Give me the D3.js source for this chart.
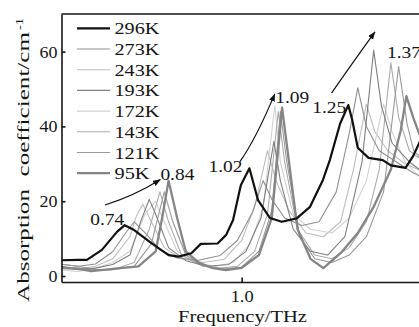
<!DOCTYPE html>
<html>
<head>
<meta charset="utf-8">
<script src="https://cdn.jsdelivr.net/npm/d3@7/dist/d3.min.js"></script>
<style>
  body { margin: 0; background: #fff; }
  text { font-family: "Liberation Serif", "Times New Roman", serif; fill: #161616; }
  .axis path, .axis line { stroke: #161616; stroke-width: 1.6; }
</style>
</head>
<body>
<div id="chart"></div>
<script>
// Absorption spectra at 8 temperatures, THz range.
const temps = ["296K", "273K", "243K", "193K", "172K", "143K", "121K", "95K"];

const s296 = [[0.575,4.2],[0.62,4.3],[0.64,4.3],[0.675,7],[0.71,11.8],[0.728,13.6],[0.75,12.3],[0.79,8.8],[0.83,5.6],[0.853,5.2],[0.883,6.1],[0.905,8.6],[0.944,8.7],[0.964,11],[0.98,15],[0.998,24.3],[1.018,28.8],[1.038,20.3],[1.066,15.5],[1.093,14.5],[1.128,15.4],[1.159,18.5],[1.189,25.7],[1.205,31],[1.229,40.8],[1.248,45.7],[1.257,41.8],[1.27,34.3],[1.295,31.6],[1.328,31],[1.347,29.6],[1.381,28.9],[1.398,31.9],[1.413,35.6],[1.43,40]];
const s273 = [[0.575,3.2],[0.62,2.6],[0.66,3.2],[0.70,6.5],[0.73,11.5],[0.75,14.5],[0.78,11],[0.81,7],[0.85,4.8],[0.90,4.2],[0.95,5.5],[0.99,9.5],[1.025,17],[1.05,25.5],[1.07,20.5],[1.10,15.5],[1.14,13.5],[1.18,14.5],[1.22,22.5],[1.25,38],[1.27,50.3],[1.29,40],[1.32,33.5],[1.36,30.5],[1.40,27.5],[1.43,26]];
const s243 = [[0.575,2.2],[0.62,1.9],[0.66,2.6],[0.70,4.6],[0.74,10.5],[0.755,16],[0.77,19.2],[0.79,14.5],[0.82,7.6],[0.86,4.6],[0.91,3.6],[0.96,4.5],[1.0,9.5],[1.03,18.5],[1.06,33.5],[1.08,25.5],[1.11,17.5],[1.15,11.5],[1.19,10.5],[1.23,14.5],[1.26,28.5],[1.29,46],[1.31,38.5],[1.34,33.5],[1.38,30],[1.43,27.5]];
const s193 = [[0.575,2.7],[0.62,1.7],[0.66,2.1],[0.70,3.1],[0.74,5.6],[0.765,14.5],[0.785,20.5],[0.80,16.5],[0.83,7.6],[0.87,4.1],[0.92,2.6],[0.97,3.1],[1.01,6.6],[1.045,15.5],[1.075,36],[1.09,25.5],[1.12,12.5],[1.16,6.6],[1.20,5.6],[1.24,10.5],[1.28,30.5],[1.307,60.4],[1.325,45.5],[1.35,35.5],[1.39,30.5],[1.43,27]];
const s172 = [[0.575,1.7],[0.62,1.2],[0.66,2.1],[0.70,3.6],[0.74,6.6],[0.775,16.5],[0.80,20],[0.82,14.5],[0.85,6.6],[0.89,3.6],[0.94,2.6],[0.98,3.6],[1.02,8.6],[1.05,18.5],[1.077,45.6],[1.09,30.5],[1.12,16.5],[1.16,12.5],[1.21,11.5],[1.25,15.5],[1.29,25.5],[1.33,46],[1.35,38.5],[1.38,30.5],[1.43,24.5]];
const s143 = [[0.575,2.5],[0.62,2.2],[0.66,1.5],[0.70,1.7],[0.75,3.6],[0.785,12.5],[0.81,22.5],[0.83,14.5],[0.86,5.6],[0.90,3.1],[0.95,2.1],[0.99,2.6],[1.03,6.6],[1.06,16.5],[1.085,44],[1.10,30.5],[1.13,12.5],[1.17,5.6],[1.21,4.6],[1.25,7.6],[1.29,14.5],[1.32,28.5],[1.347,57],[1.365,42.5],[1.39,33.5],[1.43,30]];
const s121 = [[0.575,3.2],[0.62,2.6],[0.66,1.7],[0.70,1.7],[0.75,2.6],[0.79,8.6],[0.82,22.5],[0.84,14.5],[0.87,5.6],[0.91,2.6],[0.96,1.9],[1.0,2.4],[1.04,6.6],[1.07,17.5],[1.09,44],[1.105,30.5],[1.135,10.5],[1.17,4.6],[1.21,3.6],[1.25,5.6],[1.29,10.5],[1.33,22.5],[1.365,56],[1.385,40.5],[1.40,33.5],[1.43,30]];
const s95 = [[0.575,2.2],[0.62,1.9],[0.65,1.3],[0.70,1.9],[0.76,2.6],[0.80,6.6],[0.815,15.5],[0.83,25.5],[0.85,15.5],[0.87,6.6],[0.90,3.6],[0.93,2.2],[0.963,1.6],[1.0,2.2],[1.04,5.6],[1.07,15.5],[1.094,45],[1.11,30.5],[1.13,12.5],[1.16,4.6],[1.19,2.1],[1.23,6.1],[1.27,11.5],[1.307,18.5],[1.347,28.5],[1.37,39],[1.383,48.1],[1.40,42],[1.413,38],[1.43,35]];
const series = [s296, s273, s243, s193, s172, s143, s121, s95];

const colors = ["#111", "#8f8f8f", "#bdbdbd", "#7f7f7f", "#d2d2d2", "#acacac", "#9a9a9a", "#858585"];
const widths = [2.2, 1.1, 1.1, 1.1, 1.1, 1.1, 1.1, 2.3];

const yTicks = [0, 20, 40, 60];
const xTicks = [1.0];

// Peak annotations (frequency, absorption) and arrows between them.
const peakLabels = ["0.74", "0.84", "1.02", "1.09", "1.25", "1.37"];
const peakLabelAt = [[0.648, 13.6], [0.811, 25.7], [0.923, 27.8], [1.078, 46.3], [1.164, 43.6], [1.338, 58.3]];
const arrows = [
  [[0.682, 19.0], [0.750, 21.4], [0.811, 25.8]],
  [[0.996, 30.6], [1.033, 36.6], [1.077, 48.7]],
  [[1.209, 48.9], [1.244, 54.8], [1.310, 65.3]]
];

const W = 419, H = 327;
const m = { top: 14, left: 61.5, bottom: 282 };
const x = d3.scaleLinear([0.581, 1.43], [m.left, m.left + 0.849 * 430]);
const y = d3.scaleLinear([-1.6, 70.06], [m.bottom, m.top]);

const svg = d3.select("#chart").append("svg")
  .attr("width", W).attr("height", H).attr("viewBox", `0 0 ${W} ${H}`);

const defs = svg.append("defs");
defs.append("clipPath").attr("id", "plot-clip").append("rect")
  .attr("x", m.left).attr("y", m.top).attr("width", W - m.left + 20).attr("height", m.bottom - m.top);
defs.append("marker").attr("id", "arrowhead")
  .attr("viewBox", "0 0 8 6").attr("refX", 7.5).attr("refY", 3)
  .attr("markerWidth", 8).attr("markerHeight", 6).attr("markerUnits", "userSpaceOnUse")
  .attr("orient", "auto")
  .append("path").attr("d", "M0,0 L8,3 L0,6 Z").attr("fill", "#111");

// Spectra: lighter ones first, thick 95K and black 296K on top.
const line = d3.line().x((d) => x(d[0])).y((d) => y(d[1]));
const order = [2, 4, 5, 1, 6, 3, 7, 0];
svg.append("g").attr("clip-path", "url(#plot-clip)")
  .selectAll("path").data(order).join("path")
  .attr("d", (i) => line(series[i]))
  .attr("fill", "none")
  .attr("stroke", (i) => colors[i])
  .attr("stroke-width", (i) => widths[i])
  .attr("stroke-linejoin", "round");

// Axes with inward ticks.
const yAxis = svg.append("g").attr("class", "axis").attr("transform", `translate(${m.left},0)`)
  .call(d3.axisLeft(y).tickValues(yTicks).tickSizeInner(-4).tickSizeOuter(0).tickPadding(4).tickFormat(d3.format("d")));
yAxis.selectAll("text").attr("font-size", 17).attr("fill", "#161616")
  .attr("textLength", (d) => (d === 0 ? 9 : 18)).attr("lengthAdjust", "spacingAndGlyphs");

const xAxis = svg.append("g").attr("class", "axis").attr("transform", `translate(0,${m.bottom})`)
  .call(d3.axisBottom(x).tickValues(xTicks).tickSizeInner(-4.5).tickSizeOuter(0).tickPadding(8).tickFormat(d3.format(".1f")));
xAxis.selectAll("text").attr("font-size", 17).attr("fill", "#161616")
  .attr("textLength", 23).attr("lengthAdjust", "spacingAndGlyphs");
svg.selectAll(".axis text").attr("font-family", null);

svg.append("line").attr("x1", m.left).attr("x2", W).attr("y1", m.top).attr("y2", m.top)
  .attr("stroke", "#161616").attr("stroke-width", 1.6);

// Axis titles.
svg.append("text").attr("x", 178).attr("y", 322).attr("font-size", 17.5)
  .attr("textLength", 129).attr("lengthAdjust", "spacingAndGlyphs").text("Frequency/THz");
svg.append("text").attr("transform", "translate(29,302) rotate(-90)").attr("font-size", 17)
  .attr("textLength", 270).attr("lengthAdjust", "spacingAndGlyphs").text("Absorption\u2002coefficient/cm");
svg.append("text").attr("transform", "translate(23,30) rotate(-90)").attr("font-size", 10)
  .attr("textLength", 12).attr("lengthAdjust", "spacingAndGlyphs").text("-1");

// Legend.
const leg = svg.append("g");
temps.forEach((t, i) => {
  const ly = 28.3 + i * 20.7;
  leg.append("line").attr("x1", 77).attr("x2", 110).attr("y1", ly).attr("y2", ly)
    .attr("stroke", colors[i]).attr("stroke-width", widths[i]);
  leg.append("text").attr("x", 114.5).attr("y", ly + 6).attr("font-size", 17)
    .attr("textLength", t.length === 4 ? 45 : 35).attr("lengthAdjust", "spacingAndGlyphs").text(t);
});

// Peak labels + arrows.
svg.append("g").selectAll("text").data(peakLabels).join("text")
  .attr("x", (d, i) => x(peakLabelAt[i][0])).attr("y", (d, i) => y(peakLabelAt[i][1]))
  .attr("font-size", 17).attr("textLength", 34).attr("lengthAdjust", "spacingAndGlyphs")
  .text((d) => d);

svg.append("g").selectAll("path").data(arrows).join("path")
  .attr("d", (a) => {
    const p = d3.path();
    p.moveTo(x(a[0][0]), y(a[0][1]));
    p.quadraticCurveTo(x(a[1][0]), y(a[1][1]), x(a[2][0]), y(a[2][1]));
    return p.toString();
  })
  .attr("fill", "none").attr("stroke", "#111").attr("stroke-width", 1.2)
  .attr("marker-end", "url(#arrowhead)");
</script>
</body>
</html>
